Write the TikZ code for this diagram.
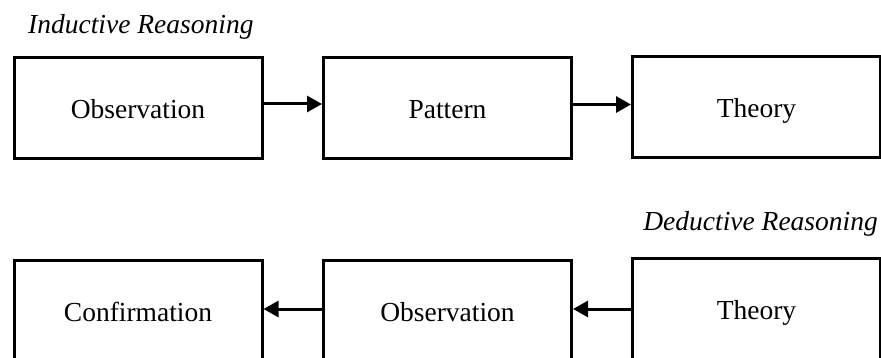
\documentclass[tikz,border=0pt]{standalone}
\usepackage{fontspec}
\setmainfont{Liberation Serif}
\usetikzlibrary{arrows.meta}
\begin{document}
\begin{tikzpicture}[x=1pt,y=-1pt,
  every node/.style={font=\fontsize{27.5}{32}\selectfont, inner sep=0pt},
  stagebox/.style={draw, line width=3pt, minimum width=248pt, minimum height=101pt,
    text height=20.5pt, text depth=0pt, align=center},
  heading/.style={font=\fontsize{27.5}{32}\selectfont\itshape},
  flow/.style={line width=3pt, -{Triangle[length=15pt,width=16pt]}}]
  \useasboundingbox (0,0) rectangle (881,358);
  \clip (0,0) rectangle (881,358);

  % inductive chain
  \node[heading, anchor=base west] (indlabel) at (28,34) {Inductive Reasoning};
  \node[stagebox] (iobs) at (138,108.5) {Observation};
  \node[stagebox] (ipat) at (447.5,108) {Pattern};
  \node[stagebox] (ithe) at (756.5,107.5) {Theory};
  \draw[flow] ([yshift=4.5pt]iobs.east) -- ([yshift=4.5pt]iobs.east -| ipat.west);
  \draw[flow] ([yshift=3.5pt]ipat.east) -- ([yshift=3.5pt]ipat.east -| ithe.west);

  % deductive chain
  \node[heading, anchor=base east] (dedlabel) at (878,231) {Deductive Reasoning};
  \node[stagebox] (dcon) at (138,311.5) {Confirmation};
  \node[stagebox] (dobs) at (447.5,311.5) {Observation};
  \node[stagebox] (dthe) at (756.5,309.5) {Theory};
  \draw[flow] ([yshift=0.5pt]dthe.west) -- ([yshift=0.5pt]dthe.west -| dobs.east);
  \draw[flow] ([yshift=2.5pt]dobs.west) -- ([yshift=2.5pt]dobs.west -| dcon.east);
\end{tikzpicture}
\end{document}
